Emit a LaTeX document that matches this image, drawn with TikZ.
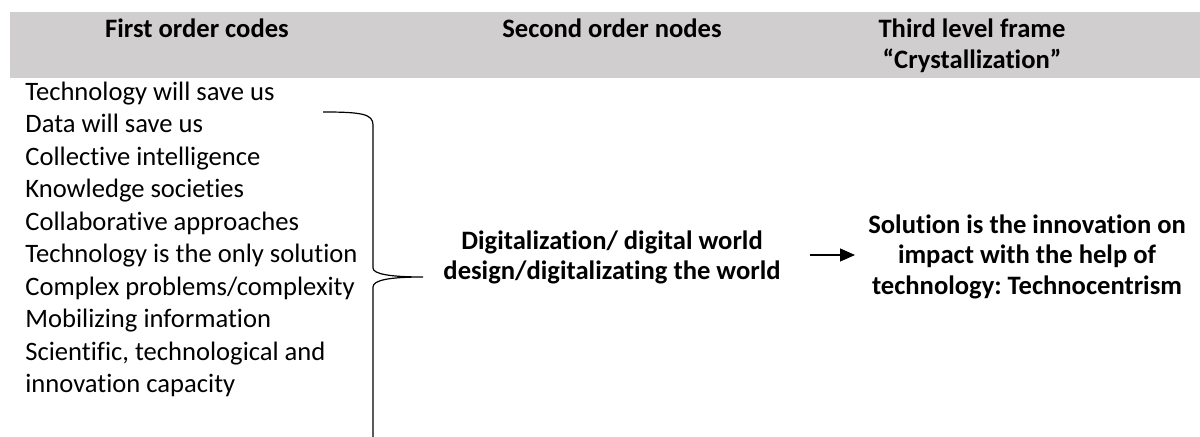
\documentclass[tikz,border=0pt]{standalone}
\usepackage{fontspec}
\setmainfont{Carlito}[Ligatures={NoCommon,TeX}]
\usetikzlibrary{arrows.meta}
\definecolor{headgray}{RGB}{208,206,206}
\frenchspacing
\begin{document}
\begin{tikzpicture}[x=0.5pt,y=-0.5pt,
  hdr/.style={font=\fontsize{13.3pt}{15.5pt}\selectfont\bfseries, align=center, inner sep=0pt, anchor=north},
  codes/.style={font=\fontsize{13.3pt}{16.25pt}\selectfont, align=left, inner sep=0pt, anchor=north west},
  midtext/.style={font=\fontsize{13.3pt}{15pt}\selectfont\bfseries, align=center, inner sep=0pt, anchor=north},
  righttext/.style={font=\fontsize{13.3pt}{15.25pt}\selectfont\bfseries, align=center, inner sep=0pt, anchor=north},
  bracepath/.style={line width=0.6pt},
  arr/.style={line width=0.6pt,-{Triangle[length=7.5pt,width=6.5pt]}}]
\useasboundingbox (0,0) rectangle (1200,437);
\fill[headgray] (10,12) rectangle (1200,78);
% headers (first baseline at y=37)
\node[hdr] (h1) at (197,15.3) {\strut First order codes};
\node[hdr] (h2) at (612,15.3) {\strut Second order nodes};
\node[hdr] (h3) at (972,15.3) {\strut Third level frame\\“Crystallization”};
% first order codes (first baseline at y=100)
\node[codes] (codes) at (25,77.25) {\strut Technology will save us\\
Data will save us\\
Collective intelligence\\
Knowledge societies\\
Collaborative approaches\\
Technology is the only solution\\
Complex problems/complexity\\
Mobilizing information\\
Scientific, technological and\\
innovation capacity};
% second order node
\node[midtext] (mid) at (612,228) {\strut Digitalization/ digital world\\design/digitalizating the world};
% third level frame
\node[righttext] (frame) at (1027,211.65) {\strut Solution is the innovation on\\impact with the help of\\technology: Technocentrism};
% brace
\coordinate (bt) at (323,112);
\coordinate (bm) at (423,277);
\coordinate (bb) at (373,440);
\draw[bracepath] (bt) .. controls (362,112) and (373,114) .. (373,125) -- (373,268)
  .. controls (373,274) and (390,277) .. (bm)
  .. controls (390,277) and (373,280) .. (373,287) -- (bb);
% arrow
\coordinate (a0) at (810,255);
\coordinate (a1) at (855,255);
\draw[arr] (a0) -- (a1);
\end{tikzpicture}
\end{document}
